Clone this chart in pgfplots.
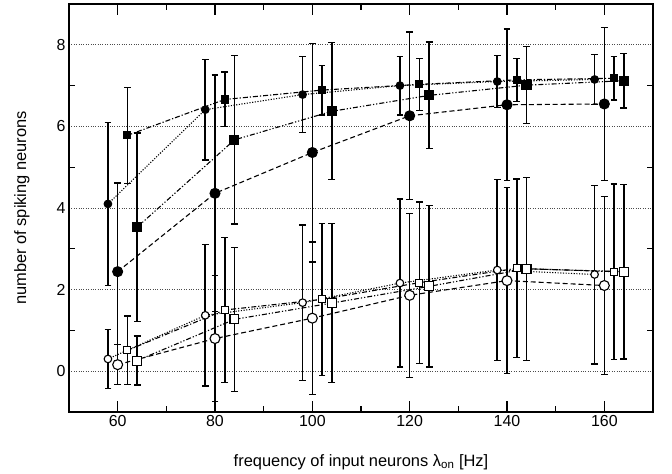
\documentclass[border=0pt]{standalone}
\usepackage{fontspec}
\setmainfont{Liberation Sans}
\usepackage{pgfplots}
\pgfplotsset{compat=1.18}
\begin{document}
\begin{tikzpicture}
\pgfplotsset{
  eb/.style={error bars/.cd, y dir=both, y explicit,
    error bar style={line width=1.6pt, solid},
    error mark options={rotate=90, mark size=3.4pt, line width=1.3pt, solid}},
  sdot/.style={dash pattern=on 1.1pt off 1.6pt},
  sdash/.style={dash pattern=on 5pt off 3pt},
  sdd/.style={dash pattern=on 5pt off 2pt on 1.2pt off 2pt},
  sddd/.style={dash pattern=on 5pt off 2pt on 1.2pt off 2pt on 1.2pt off 2pt},
}
\begin{axis}[
  scale only axis, width=584bp, height=408bp,
  xmin=50, xmax=170, ymin=-1, ymax=9,
  xtick={60,80,...,160}, ytick={0,2,...,8},
  minor x tick num=1, minor y tick num=1,
  tick align=inside,
  major tick length=11bp, minor tick length=6bp,
  tick style={line width=1.3pt, black},
  major y tick style={draw=none},
  axis line style={line width=2.4pt},
  ymajorgrids, major grid style={dotted, line width=0.8pt, black!70},
  ticklabel style={font=\fontsize{16}{18}\selectfont},
  /pgf/number format/assume math mode=true,
  xlabel={frequency of input neurons λ\textsubscript{on} [Hz]},
  ylabel={number of spiking neurons},
  every axis x label/.style={at={([yshift=-50bp]axis description cs:0.5,0)}, anchor=center, font=\fontsize{16.5}{19}\selectfont},
  every axis y label/.style={at={([xshift=-47bp]axis description cs:0,0.5)}, anchor=center, rotate=90, font=\fontsize{16.5}{19}\selectfont},
  every axis plot/.append style={line width=1.1pt, black},
]
% A small filled circle, dotted
\addplot[sdot, mark=*, mark size=3.8pt, mark options={solid, fill=black}, eb]
 coordinates {(58,4.10)+-(0,2.0) (78,6.41)+-(0,1.23) (98,6.78)+-(0,0.93) (118,7.0)+-(0,0.72) (138,7.1)+-(0,0.63) (158,7.15)+-(0,0.62)};
% B big filled circle, dashed
\addplot[sdash, mark=*, mark size=5pt, mark options={solid, fill=black}, eb]
 coordinates {(60,2.44)+-(0,2.17) (80,4.36)+-(0,2.9) (100,5.36)+-(0,2.68) (120,6.26)+-(0,2.05) (140,6.53)+-(0,1.86) (160,6.55)+-(0,1.88)};
% C small filled square, dash-dot
\addplot[sdd, mark=square*, mark size=3.5pt, mark options={solid, fill=black}, eb]
 coordinates {(62,5.78)+-(0,1.18) (82,6.66)+-(0,0.67) (102,6.89)+-(0,0.61) (122,7.03)+-(0,0.64) (142,7.14)+-(0,0.53) (162,7.18)+-(0,0.53)};
% D big filled square
\addplot[sddd, mark=square*, mark size=4.5pt, mark options={solid, fill=black}, eb]
 coordinates {(64,3.53)+-(0,2.31) (84,5.67)+-(0,2.06) (104,6.37)+-(0,1.68) (124,6.76)+-(0,1.31) (144,7.01)+-(0,0.94) (164,7.12)+-(0,0.67)};
% E small open circle
\addplot[sdot, mark=*, mark size=3.8pt, mark options={solid, fill=white}, eb]
 coordinates {(58,0.30)+-(0,0.72) (78,1.37)+-(0,1.73) (98,1.68)+-(0,1.9) (118,2.16)+-(0,2.06) (138,2.48)+-(0,2.22) (158,2.37)+-(0,2.19)};
% F big open circle
\addplot[sdash, mark=*, mark size=5pt, mark options={solid, fill=white}, eb]
 coordinates {(60,0.16)+-(0,0.49) (80,0.80)+-(0,1.54) (100,1.30)+-(0,1.87) (120,1.86)+-(0,2.01) (140,2.22)+-(0,2.28) (160,2.10)+-(0,2.18)};
% G small open square
\addplot[sdd, mark=square*, mark size=3.5pt, mark options={solid, fill=white}, eb]
 coordinates {(62,0.51)+-(0,0.84) (82,1.50)+-(0,1.77) (102,1.76)+-(0,1.86) (122,2.17)+-(0,1.98) (142,2.52)+-(0,2.19) (162,2.44)+-(0,2.15)};
% H big open square
\addplot[sddd, mark=square*, mark size=4.5pt, mark options={solid, fill=white}, eb]
 coordinates {(64,0.26)+-(0,0.6) (84,1.27)+-(0,1.76) (104,1.67)+-(0,1.95) (124,2.08)+-(0,1.98) (144,2.51)+-(0,2.24) (164,2.44)+-(0,2.14)};
\end{axis}
\path (current axis.south west) ++(-69bp,-62bp);
\path (current axis.north east) ++(19bp,4bp);
\end{tikzpicture}
\end{document}
